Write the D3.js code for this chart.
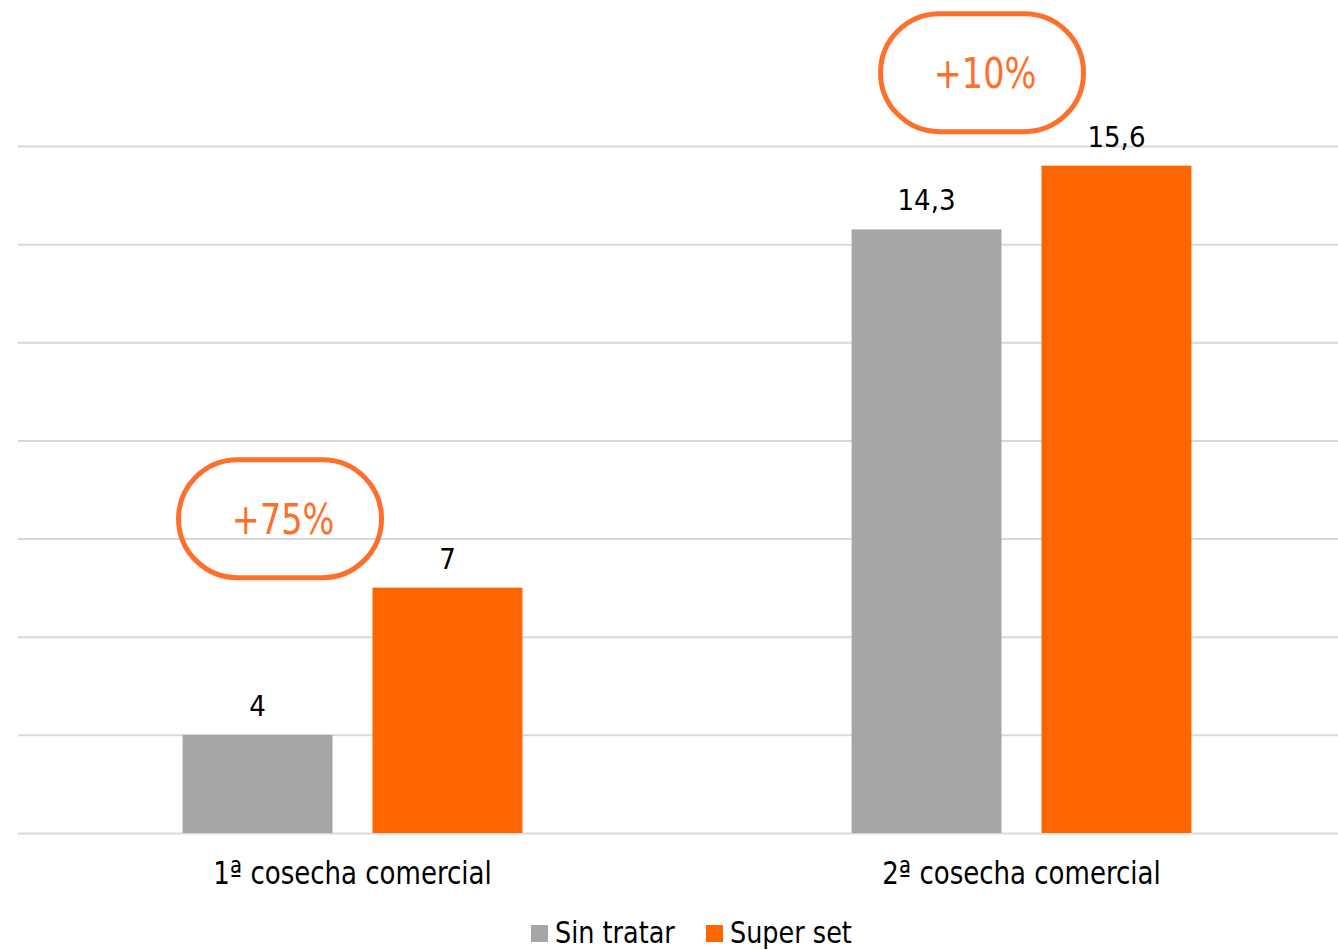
<!DOCTYPE html>
<html><head><meta charset="utf-8">
<script src="https://cdn.jsdelivr.net/npm/d3@7"></script>
<style>
html,body{margin:0;padding:0;background:#fff;}
svg{display:block;font-family:"DejaVu Sans Condensed","DejaVu Sans",sans-serif;}
</style></head>
<body>
<svg id="chart" width="1338" height="950"></svg>
<script>
const categories = ["1ª cosecha comercial", "2ª cosecha comercial"];
const seriesNames = ["Sin tratar", "Super set"];
const sinTratar = [4, 14.3];
const superSet = [7, 15.6];
const valueLabels = [["4", "14,3"], ["7", "15,6"]];
const increaseLabels = ["+75%", "+10%"];
const yTicks = [2, 4, 6, 8, 10, 12, 14, 16];
const colors = ["#A6A6A6", "#FF6600"];

const svg = d3.select("#chart");
const y = d3.scaleLinear().domain([2, 16]).range([833, 146]);
const x0 = d3.scaleBand().domain(categories).range([18, 1356]).paddingInner(0.492).paddingOuter(0.246);
const x1 = d3.scaleBand().domain(seriesNames).range([0, x0.bandwidth()]).paddingInner(0.2105);

// gridlines
const yAxis = d3.axisLeft(y).tickValues(yTicks).tickSize(-(1356 - 18)).tickFormat("");
const g = svg.append("g").attr("transform", "translate(18,0)").call(yAxis);
g.select(".domain").remove();
g.selectAll(".tick line").attr("stroke", "#D9D9D9").attr("stroke-width", 2);

const seriesValues = [sinTratar, superSet];
const data = [];
seriesNames.forEach((s, si) => categories.forEach((c, ci) => data.push({s, si, c, ci, v: seriesValues[si][ci], label: valueLabels[si][ci]})));

svg.append("g").selectAll("rect").data(data).join("rect")
  .attr("x", d => x0(d.c) + x1(d.s))
  .attr("y", d => y(d.v))
  .attr("width", x1.bandwidth())
  .attr("height", d => y(2) - y(d.v))
  .attr("fill", d => colors[d.si]);

svg.append("g").selectAll("text").data(data).join("text")
  .attr("x", d => x0(d.c) + x1(d.s) + x1.bandwidth() / 2)
  .attr("y", d => y(d.v) - 19)
  .attr("text-anchor", "middle")
  .attr("font-size", 29)
  .attr("fill", "#000")
  .text(d => d.label);

// category axis labels
const xAxis = d3.axisBottom(x0).tickSize(0).tickPadding(0);
const gx = svg.append("g").attr("transform", "translate(0,833)").call(xAxis);
gx.select(".domain").remove();
gx.selectAll("text").attr("font-size", 32).attr("fill", "#000")
  .attr("font-family", "\"DejaVu Sans Condensed\",\"DejaVu Sans\",sans-serif")
  .attr("dy", 0).attr("y", 51)
  .attr("transform", "scale(0.905,1)");

// increase bubbles
const bubbleW = 203, bubbleH = 118;
categories.forEach((c, ci) => {
  const topVal = Math.max(sinTratar[ci], superSet[ci]);
  const cx = ci === 0 ? x0(c) + x1(seriesNames[0]) + x1.bandwidth() * 0.65 : x0(c) + x1.bandwidth() * 0.87;
  const cy = y(topVal) - 69 - (ci === 0 ? 0 : 24);
  const gb = svg.append("g");
  gb.append("rect")
    .attr("x", cx - bubbleW / 2).attr("y", cy - bubbleH / 2)
    .attr("width", bubbleW).attr("height", bubbleH)
    .attr("rx", bubbleH / 2).attr("ry", bubbleH / 2)
    .attr("fill", "none").attr("stroke", "#FF6F2C").attr("stroke-width", 5);
  gb.append("text")
    .attr("transform", `translate(${cx + 3},${cy + 15}) scale(0.93,1.05)`)
    .attr("text-anchor", "middle")
    .attr("font-size", 40).attr("fill", "#FF6F2C")
    .text(increaseLabels[ci]);
});

// legend
const legend = svg.append("g");
const legendX = [531, 706];
seriesNames.forEach((s, si) => {
  legend.append("rect").attr("x", legendX[si]).attr("y", 925).attr("width", 17).attr("height", 17).attr("fill", colors[si]);
  legend.append("text")
    .attr("transform", `translate(${legendX[si] + 24},943) scale(0.915,1)`)
    .attr("font-size", 31).attr("fill", "#000").text(s);
});
</script>
</body></html>
